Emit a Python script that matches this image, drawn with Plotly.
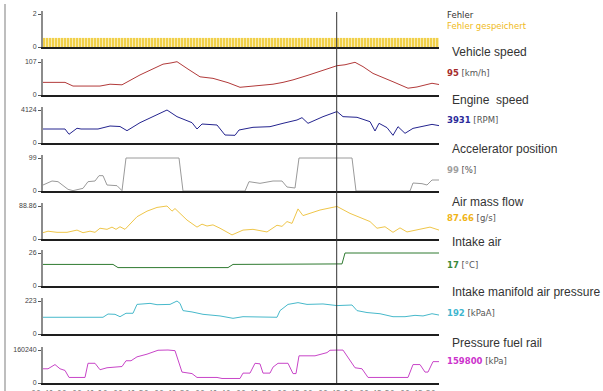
import plotly.graph_objects as go

# ---------------- data (time in s, values) ----------------
fehler_t = [1.5 + 3 * i for i in range(132)]
fehler_v = [0.55] * 132

speed_t = [0, 22, 30, 57, 67, 79, 97, 110, 120, 128, 134, 145, 157, 170, 185, 197, 215, 230, 240, 250, 265, 280, 294, 302, 312, 320, 330, 350, 365, 374, 389, 396]
speed_v = [41, 41, 29, 29, 35, 33, 65, 84, 100, 104, 108, 84, 59, 54, 40, 25, 30, 35, 41, 49, 64, 81, 95, 98, 106, 92, 70, 43, 22, 26, 38, 34]

rpm_t = [0, 22, 26, 34, 38, 55, 67, 77, 84, 97, 110, 124, 134, 149, 154, 159, 174, 182, 192, 196, 210, 227, 240, 254, 259, 265, 280, 294, 300, 314, 327, 332, 336, 344, 350, 355, 362, 370, 389, 396]
rpm_v = [1750, 1750, 1090, 1840, 1750, 1750, 2125, 2060, 1540, 2540, 3300, 4124, 3290, 2540, 1750, 2375, 2250, 1000, 960, 1625, 1960, 2040, 2460, 2875, 3165, 2460, 3290, 3931, 3290, 3210, 2665, 1500, 2460, 1920, 960, 2040, 1210, 1830, 2330, 2170]

accel_t = [0, 9, 15, 25, 30, 40, 45, 52, 56, 60, 64, 74, 79, 83, 136, 140, 202, 206, 217, 230, 239, 244, 252, 256, 309, 313, 367, 370, 379, 384, 389, 396]
accel_v = [18, 30, 28, 5, 1, 8, 28, 30, 46, 46, 18, 16, 1, 99, 99, 0, 0, 28, 23, 30, 30, 12, 9, 99, 99, 0, 0, 24, 22, 18, 33, 33]

maf_t = [0, 5, 14, 24, 34, 40, 47, 52, 57, 64, 69, 73, 77, 82, 94, 104, 114, 124, 129, 132, 144, 154, 159, 164, 170, 177, 189, 200, 210, 224, 234, 239, 244, 249, 255, 260, 277, 294, 307, 327, 334, 342, 350, 357, 364, 374, 387, 396]
maf_v = [17, 21, 18, 18, 24, 17, 21, 18, 29, 26, 32, 26, 33, 26, 60, 75, 85, 88.86, 75, 82, 51, 32, 40, 35, 38, 29, 11, 24, 26, 19, 37, 34, 47, 42, 81, 63, 78, 87.66, 69, 47, 29, 33, 18, 30, 19, 24, 32, 24]

iat_t = [0, 70, 75, 185, 190, 295, 299, 302, 396]
iat_v = [17, 17, 14.5, 14.5, 17, 17, 17.4, 26, 26]

map_t = [0, 60, 65, 72, 77, 83, 90, 94, 107, 114, 127, 134, 137, 140, 149, 160, 177, 190, 200, 217, 234, 237, 245, 255, 264, 280, 294, 309, 314, 324, 337, 350, 362, 372, 380, 389, 396]
map_v = [113, 113, 135, 133, 117, 140, 140, 200, 207, 198, 200, 223, 207, 158, 149, 133, 122, 106, 117, 117, 113, 158, 200, 212, 200, 203, 192, 196, 158, 145, 137, 117, 117, 126, 122, 137, 128]

rail_t = [0, 5, 12, 17, 22, 26, 42, 45, 52, 57, 64, 79, 83, 88, 94, 104, 115, 125, 132, 139, 149, 154, 174, 179, 197, 200, 207, 212, 217, 220, 227, 230, 235, 245, 250, 253, 256, 272, 284, 287, 294, 300, 312, 319, 325, 365, 370, 377, 382, 385, 390, 396]
rail_v = [69000, 69000, 89500, 69000, 61000, 27000, 27000, 95700, 95700, 64500, 74000, 80000, 108000, 108000, 127000, 140000, 159000, 160240, 157000, 53000, 45700, 27000, 27000, 22000, 22000, 48000, 48000, 95700, 93000, 48000, 48000, 77000, 95700, 95700, 45700, 45700, 132000, 132000, 147500, 159000, 159800, 159800, 74000, 69000, 27000, 27000, 89500, 89500, 53000, 53000, 103700, 103700]

y_max = [2, 107, 4124, 99, 88.86, 26, 223, 160240]
y_max_text = ["2", "107", "4124", "99", "88.86", "26", "223", "160240"]

names = ["Vehicle speed", "Engine  speed", "Accelerator position", "Air mass flow",
         "Intake air", "Intake manifold air pressure", "Pressure fuel rail"]
cur_vals = ["95", "3931", "99", "87.66", "17", "192", "159800"]
units = ["[km/h]", "[RPM]", "[%]", "[g/s]", "[°C]", "[kPaA]", "[kPa]"]

x_tick_vals = [6, 47, 88, 129, 170, 211, 252, 293, 334, 375]
x_tick_text = ["09:41:00", "09:41:10", "09:41:20", "09:41:30", "09:41:40",
               "09:41:50", "09:42:00", "09:42:10", "09:42:20", "09:42:30"]
cursor_t = 293.7

# ---------------- styling ----------------
line_colors = ["#b23a3a", "#24248f", "#9a9a9a", "#efc64a", "#2f7a30", "#47b9cb", "#c845c8"]
value_colors = ["#a52a2a", "#2a2a9a", "#a0a0a0", "#f0b418", "#3a8a3a", "#3fb6cf", "#cc33cc"]

W, H = 603, 391
L, R = 43, 439
baselines = [47, 95, 143, 191, 239, 286, 334, 383]
top_pad = 36

def py(px):
    return 1 - px / H

def pxx(px):
    return (px - L) / (R - L)

fig = go.Figure()

fig.add_trace(go.Bar(x=fehler_t, y=fehler_v, marker=dict(color="#f1d04a", line=dict(width=0)),
                     xaxis="x", yaxis="y", showlegend=False, hoverinfo="skip"))

series = [(speed_t, speed_v), (rpm_t, rpm_v), (accel_t, accel_v), (maf_t, maf_v),
          (iat_t, iat_v), (map_t, map_v), (rail_t, rail_v)]
for i, (t, v) in enumerate(series):
    k = i + 2
    fig.add_trace(go.Scatter(x=t, y=v, mode="lines", line=dict(color=line_colors[i], width=1),
                             xaxis=f"x{k}", yaxis=f"y{k}", showlegend=False))

layout = dict(
    width=W, height=H,
    margin=dict(l=L, r=W - R, t=0, b=0, pad=0, autoexpand=False),
    paper_bgcolor="white", plot_bgcolor="white",
    bargap=0.38,
    font=dict(family="Liberation Sans, Arial", size=8, color="#333"),
)
for k in range(1, 9):
    b = baselines[k - 1]
    suffix = "" if k == 1 else str(k)
    last = (k == 8)
    layout[f"xaxis{suffix}"] = dict(
        domain=[0, 1], anchor=f"y{suffix}", range=[0, 396], automargin=False,
        showline=True, linecolor="#1e1e1e", linewidth=1.5,
        showgrid=False, zeroline=False,
        tickvals=x_tick_vals if last else [], ticktext=x_tick_text if last else [],
        showticklabels=last, ticks="outside" if last else "", ticklen=3,
        tickcolor="rgba(0,0,0,0)",
        tickfont=dict(size=8, color="#8a8a8a", family="DejaVu Sans"),
        **({} if k == 1 else {"matches": "x"}),
    )
    m = y_max[k - 1]
    layout[f"yaxis{suffix}"] = dict(
        domain=[py(b), py(b - top_pad)], anchor=f"x{suffix}", automargin=False,
        range=[0, m * top_pad / 33.0],
        showline=True, linecolor="#8c8c8c", linewidth=2,
        ticks="outside", ticklen=3, tickcolor="#555", tickwidth=1,
        tickvals=[0, m], ticktext=["0", y_max_text[k - 1]],
        tickfont=dict(size=7, color="#444", family="Liberation Sans, Arial"),
        showgrid=False, zeroline=False,
    )
fig.update_layout(**layout)

# cursor line and left border
fig.add_shape(type="line", xref="x", yref="paper", x0=cursor_t, x1=cursor_t,
              y0=py(383), y1=py(12), line=dict(color="#333", width=1))
fig.add_shape(type="line", xref="paper", yref="paper", x0=pxx(5), x1=pxx(5),
              y0=0, y1=py(4), line=dict(color="#a8a8a8", width=1.5))

# right-hand labels
fig.add_annotation(x=pxx(445), y=py(15), xref="paper", yref="paper", xanchor="left", yanchor="middle",
                   text="Fehler", showarrow=False, font=dict(family="DejaVu Sans", size=8.5, color="#333"))
fig.add_annotation(x=pxx(445), y=py(26), xref="paper", yref="paper", xanchor="left", yanchor="middle",
                   text="Fehler gespeichert", showarrow=False,
                   font=dict(family="DejaVu Sans", size=8.5, color="#efba1a"))

title_y = [52, 100, 149, 202, 242, 292, 343]
value_y = [73, 120, 170, 218, 265, 313, 361]
for i in range(7):
    fig.add_annotation(x=pxx(450), y=py(title_y[i]), xref="paper", yref="paper",
                       xanchor="left", yanchor="middle", showarrow=False, text=names[i],
                       font=dict(family="Liberation Sans, Arial", size=12, color="#333"))
    fig.add_annotation(x=pxx(445), y=py(value_y[i]), xref="paper", yref="paper",
                       xanchor="left", yanchor="middle", showarrow=False,
                       text=f"<b><span style='color:{value_colors[i]}'>{cur_vals[i]}</span></b> {units[i]}",
                       font=dict(family="DejaVu Sans", size=8.5, color="#555"))

fig.write_html("out.html", config={"displayModeBar": False},
               post_script="document.body.style.margin='0';")
